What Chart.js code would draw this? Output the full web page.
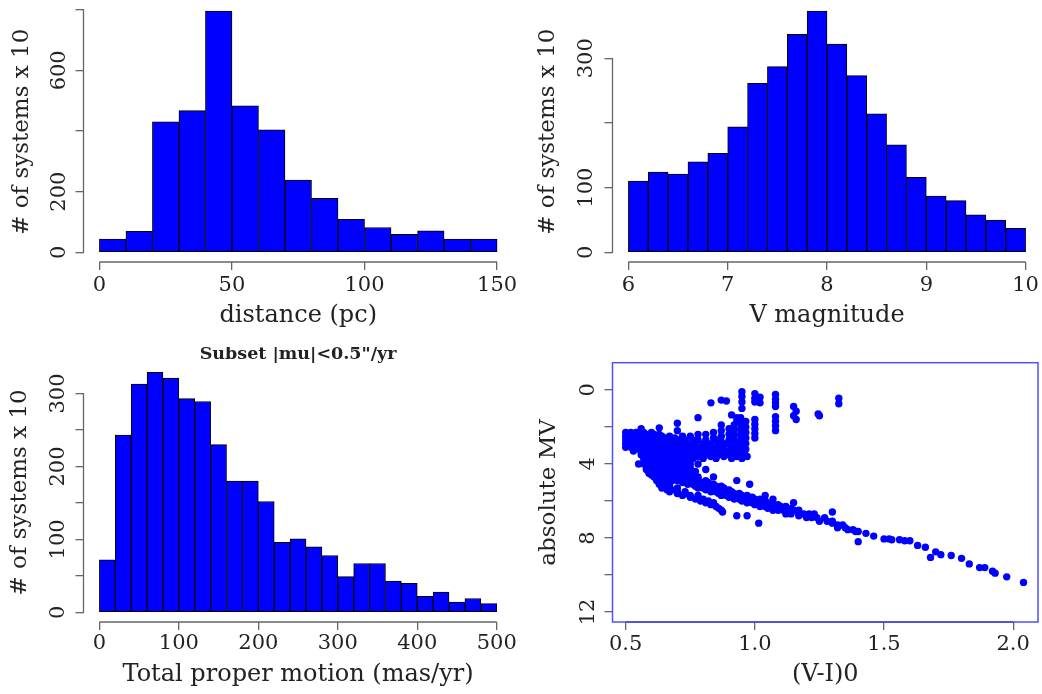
<!DOCTYPE html>
<html>
<head>
<meta charset="utf-8">
<script src="https://cdn.jsdelivr.net/npm/chart.js@4.4.0/dist/chart.umd.min.js"></script>
<style>
html, body { margin: 0; padding: 0; background: #fff; }
#wrap { position: relative; width: 1042px; height: 694px; overflow: hidden; }
.cell { position: absolute; width: 521px; height: 347px; }
</style>
</head>
<body>
<div id="wrap">
  <div class="cell" style="left:0;top:0"><canvas id="cDist"></canvas></div>
  <div class="cell" style="left:521px;top:0"><canvas id="cVmag"></canvas></div>
  <div class="cell" style="left:0;top:347px"><canvas id="cPm"></canvas></div>
  <div class="cell" style="left:521px;top:347px"><canvas id="cHr"></canvas></div>
</div>
<script>
// histogram 1: distance (pc), bins of 10
var distBins = [0, 10, 20, 30, 40, 50, 60, 70, 80, 90, 100, 110, 120, 130, 140];
var distCounts = [44, 69, 430, 467, 795, 483, 404, 238, 178, 109, 82, 59, 71, 44, 44];
var distTicksX = [0, 50, 100, 150];
var distTicksY = [0, 200, 400, 600, 800];
var distLabelsY = [0, 200, 600];

// histogram 2: V magnitude, bins of 0.2
var vmagBins = [6.0, 6.2, 6.4, 6.6, 6.8, 7.0, 7.2, 7.4, 7.6, 7.8, 8.0, 8.2, 8.4, 8.6, 8.8, 9.0, 9.2, 9.4, 9.6, 9.8];
var vmagCounts = [110, 124, 121, 140, 153, 194, 261, 287, 337, 373, 322, 273, 214, 166, 116, 87, 80, 58, 50, 37];
var vmagTicksX = [6, 7, 8, 9, 10];
var vmagTicksY = [0, 100, 200, 300];
var vmagLabelsY = [0, 100, 300];

// histogram 3: total proper motion, bins of 20
var pmBins = [0, 20, 40, 60, 80, 100, 120, 140, 160, 180, 200, 220, 240, 260, 280, 300, 320, 340, 360, 380, 400, 420, 440, 460, 480];
var pmCounts = [72, 243, 313, 329, 321, 293, 289, 230, 180, 180, 152, 96, 101, 90, 78, 49, 67, 67, 43, 40, 22, 28, 14, 19, 12];
var pmTicksX = [0, 100, 200, 300, 400, 500];
var pmTicksY = [0, 50, 100, 150, 200, 250, 300];
var pmLabelsY = [0, 100, 200, 300];

// HR diagram: isolated stars as [(V-I)0, MV]
var hrSingles = [
  [0.83, 0.7], [0.87, 0.55], [0.89, 0.6], [0.95, 0.1], [0.95, 0.35], [0.95, 0.65], [0.95, 1.0],
  [1.0, 0.2], [1.0, 0.45], [1.02, 0.4], [1.0, 0.65], [1.02, 0.7],
  [1.08, 0.25], [1.08, 0.5], [1.08, 0.7], [1.08, 0.9],
  [1.15, 0.9], [1.16, 1.15], [1.15, 1.4], [1.16, 1.6], [1.245, 1.3], [1.25, 1.4],
  [1.325, 0.45], [1.325, 0.75], [0.78, 1.5], [0.91, 1.35], [0.87, 1.9], [0.70, 1.8],
  [0.56, 2.1], [0.63, 2.05], [0.70, 2.2],
  [0.93, 1.5], [0.93, 1.7],
  [1.0, 1.6], [1.0, 1.85], [1.0, 2.1], [1.0, 2.35], [1.0, 2.6],
  [1.08, 1.45], [1.08, 1.7], [1.08, 1.95], [1.08, 2.2],
  [0.945, 1.5], [0.945, 1.8], [0.945, 2.1], [0.945, 2.4], [0.945, 2.7], [0.945, 3.0],
  [0.965, 1.7], [0.965, 2.0], [0.965, 2.3], [0.965, 2.6], [0.965, 2.9], [0.965, 3.2],
  [0.92, 1.9], [0.92, 2.2], [0.92, 2.5], [0.92, 2.8],
  [0.90, 2.1], [0.90, 2.4], [0.90, 2.7], [0.87, 2.2], [0.87, 2.5], [0.87, 2.8],
  [0.84, 2.3], [0.84, 2.6], [0.81, 2.4], [0.81, 2.7], [0.78, 2.4], [0.78, 2.7]
];
// HR diagram: crowded rows, [MV, list of (V-I)0]
var hrRows = [
  [2.3, [0.50, 0.52, 0.54, 0.57, 0.60]],
  [2.4, [0.51, 0.53, 0.55, 0.59, 0.61, 0.63]],
  [2.5, [0.50, 0.52, 0.54, 0.56, 0.58, 0.60, 0.62, 0.64, 0.67, 0.72, 0.75]],
  [2.6, [0.51, 0.53, 0.55, 0.57, 0.59, 0.61, 0.63, 0.65, 0.69]],
  [2.7, [0.50, 0.52, 0.54, 0.56, 0.58, 0.60, 0.62, 0.64, 0.66, 0.68, 0.70, 0.73, 0.76, 0.85]],
  [2.8, [0.51, 0.53, 0.55, 0.57, 0.59, 0.61, 0.63, 0.65, 0.67, 0.69, 0.71]],
  [2.9, [0.50, 0.52, 0.54, 0.56, 0.58, 0.60, 0.62, 0.64, 0.66, 0.68, 0.70, 0.72, 0.74, 0.77, 0.80, 0.83, 0.86, 0.89, 0.92]],
  [3.0, [0.51, 0.53, 0.55, 0.57, 0.59, 0.61, 0.63, 0.65, 0.67, 0.69, 0.71, 0.73, 0.75, 0.81, 0.87, 0.93]],
  [3.1, [0.50, 0.52, 0.54, 0.56, 0.58, 0.60, 0.62, 0.64, 0.66, 0.68, 0.70, 0.72, 0.74, 0.76, 0.79, 0.82, 0.85, 0.88, 0.91, 0.94, 0.96]],
  [3.2, [0.55, 0.57, 0.59, 0.61, 0.63, 0.65, 0.67, 0.69, 0.71, 0.73, 0.75, 0.77, 0.79, 0.83, 0.87, 0.91, 0.95]],
  [3.3, [0.53, 0.56, 0.58, 0.60, 0.62, 0.64, 0.66, 0.68, 0.70, 0.72, 0.74, 0.76, 0.78, 0.80, 0.82, 0.84, 0.86, 0.88, 0.90, 0.92, 0.94, 0.96]],
  [3.4, [0.57, 0.59, 0.61, 0.63, 0.65, 0.67, 0.69, 0.71, 0.73, 0.75, 0.77, 0.79, 0.81, 0.83, 0.85, 0.87, 0.89, 0.91, 0.93, 0.95]],
  [3.5, [0.56, 0.58, 0.60, 0.62, 0.64, 0.66, 0.68, 0.70, 0.72, 0.74, 0.76, 0.78, 0.80, 0.82, 0.84, 0.86, 0.88, 0.90, 0.92, 0.94, 0.96]],
  [3.6, [0.58, 0.60, 0.62, 0.64, 0.66, 0.68, 0.70, 0.72, 0.74, 0.78, 0.83, 0.88, 0.93, 0.97]],
  [3.7, [0.57, 0.59, 0.61, 0.63, 0.65, 0.67, 0.69, 0.71, 0.73, 0.76, 0.80, 0.85, 0.91, 0.95]],
  [3.8, [0.58, 0.60, 0.62, 0.64, 0.66, 0.68, 0.70, 0.72, 0.74]],
  [3.9, [0.57, 0.59, 0.61, 0.63, 0.65, 0.67, 0.69, 0.71, 0.73]],
  [4.0, [0.55, 0.57, 0.60, 0.75, 0.78]],
  [4.1, [0.58, 0.60, 0.62, 0.64, 0.66, 0.68, 0.70, 0.72, 0.74]],
  [4.2, [0.59, 0.61, 0.63, 0.65, 0.67, 0.69, 0.71, 0.73, 0.75]],
  [4.3, [0.58, 0.60, 0.62, 0.64, 0.66, 0.68, 0.70, 0.72, 0.74, 0.81]],
  [4.4, [0.59, 0.61, 0.63, 0.65, 0.67, 0.69, 0.71, 0.73, 0.75, 0.77]],
  [4.5, [0.59, 0.61, 0.63, 0.65, 0.67, 0.69, 0.71, 0.73, 0.76]],
  [4.6, [0.60, 0.62, 0.64, 0.66, 0.68, 0.70, 0.72, 0.74, 0.76]],
  [4.7, [0.61, 0.63, 0.65, 0.67, 0.69, 0.71, 0.73, 0.75, 0.78, 0.84]],
  [4.8, [0.62, 0.64, 0.66, 0.68, 0.70, 0.72, 0.74, 0.76, 0.78]],
  [4.9, [0.62, 0.64, 0.66, 0.68, 0.70, 0.72, 0.74, 0.76, 0.78, 0.81, 0.93]],
  [5.0, [0.63, 0.65, 0.72, 0.74, 0.76, 0.78, 0.80, 0.82]],
  [5.1, [0.63, 0.65, 0.67, 0.74, 0.76, 0.78, 0.80, 0.82, 0.84, 0.98]],
  [5.2, [0.64, 0.66, 0.77, 0.79, 0.81, 0.83, 0.85, 0.87]],
  [5.3, [0.64, 0.67, 0.70, 0.78, 0.80, 0.82, 0.84, 0.86, 0.88]],
  [5.4, [0.66, 0.69, 0.81, 0.83, 0.85, 0.87, 0.90]],
  [5.5, [0.67, 0.70, 0.73, 0.83, 0.85, 0.87, 0.89, 0.91]],
  [5.6, [0.70, 0.73, 0.86, 0.88, 0.90, 0.92, 0.94]],
  [5.7, [0.72, 0.75, 0.78, 0.87, 0.89, 0.91, 0.93, 0.95, 0.97, 1.04]],
  [5.8, [0.75, 0.78, 0.90, 0.92, 0.94, 0.96, 0.99]],
  [5.9, [0.77, 0.80, 0.92, 0.94, 0.96, 0.98, 1.00, 1.02, 1.07]],
  [6.0, [0.79, 0.82, 0.95, 0.97, 0.99, 1.01, 1.04]],
  [6.1, [0.81, 0.84, 0.97, 0.99, 1.01, 1.03, 1.05, 1.07, 1.15]],
  [6.2, [0.83, 1.00, 1.02, 1.04, 1.06, 1.09]],
  [6.3, [0.85, 1.02, 1.04, 1.06, 1.08, 1.10, 1.12]],
  [6.4, [0.86, 1.05, 1.07, 1.09, 1.11, 1.14]],
  [6.5, [0.87, 1.07, 1.09, 1.11, 1.13, 1.15, 1.17]],
  [6.6, [0.875, 1.30]],
  [6.7, [1.12, 1.14, 1.17, 1.19, 1.21, 1.23]],
  [6.8, [0.93, 0.97, 1.17]],
  [6.9, [1.20, 1.22, 1.24, 1.27]],
  [7.1, [1.25, 1.28, 1.30]],
  [7.2, [1.015, 1.30]],
  [7.3, [1.32, 1.34]],
  [7.45, [1.32, 1.35]],
  [7.55, [1.36, 1.38]],
  [7.65, [1.39, 1.40]],
  [7.75, [1.43]],
  [7.9, [1.46]],
  [8.05, [1.50, 1.52]],
  [8.1, [1.53, 1.56]],
  [8.15, [1.58, 1.60]],
  [8.2, [1.40]],
  [8.4, [1.63]],
  [8.5, [1.66]],
  [8.75, [1.70]],
  [8.9, [1.72]],
  [8.95, [1.76]],
  [9.05, [1.68]],
  [9.1, [1.80]],
  [9.4, [1.83]],
  [9.6, [1.87, 1.89]],
  [9.8, [1.92]],
  [9.9, [1.93]],
  [10.1, [1.975]],
  [10.4, [2.04]]
];
var hrTicksX = [0.5, 1.0, 1.5, 2.0];
var hrTicksY = [0, 2, 4, 6, 8, 10, 12];
var hrLabelsY = [0, 4, 8, 12];

Chart.defaults.font.family = "'DejaVu Serif', serif";
Chart.defaults.color = '#222';
Chart.defaults.animation = false;

var AXIS_COL = '#666';

// R style axes: line only between first and last tick, optional box
var rAxisLines = {
  id: 'rAxisLines',
  afterDraw: function (chart, args, opts) {
    var ctx = chart.ctx, a = chart.chartArea;
    ctx.save();
    if (opts.box) {
      ctx.strokeStyle = opts.box;
      ctx.lineWidth = 1.5;
      ctx.strokeRect(a.left, a.top, a.right - a.left, a.bottom - a.top);
    }
    ctx.strokeStyle = opts.color || AXIS_COL;
    ctx.lineWidth = 1.3;
    ctx.beginPath();
    (opts.axes || ['x', 'y']).forEach(function (id) {
      var s = chart.scales[id];
      var p0 = s.getPixelForValue(s.ticks[0].value);
      var p1 = s.getPixelForValue(s.ticks[s.ticks.length - 1].value);
      if (s.isHorizontal()) { ctx.moveTo(p0, a.bottom); ctx.lineTo(p1, a.bottom); }
      else { ctx.moveTo(a.left, p0); ctx.lineTo(a.left, p1); }
    });
    ctx.stroke();
    ctx.restore();
  }
};

function rScale(o) {
  var vertical = o.axis === 'y';
  return {
    type: 'linear',
    bounds: 'data',
    min: o.min,
    max: o.max,
    reverse: !!o.reverse,
    offset: false,
    border: { display: false },
    grid: { display: true, drawOnChartArea: false, drawTicks: true, tickLength: 8, color: AXIS_COL, lineWidth: 1.3, offset: false },
    afterBuildTicks: function (s) { s.ticks = o.ticks.map(function (v) { return { value: v }; }); },
    afterFit: function (s) {
      // fixed margins, no extra room for the end labels
      if (vertical) { s.width = o.size; s.paddingTop = 0; s.paddingBottom = 0; }
      else { s.height = o.size; s.paddingLeft = 0; s.paddingRight = 0; }
    },
    ticks: {
      font: { size: 21 },
      color: '#222',
      padding: o.pad,
      autoSkip: false,
      minRotation: vertical ? 90 : 0,
      maxRotation: vertical ? 90 : 0,
      crossAlign: vertical ? 'center' : 'near',
      callback: function (v) {
        if (o.labels && o.labels.indexOf(v) < 0) return '';
        return o.fmt ? o.fmt(v) : String(v);
      }
    },
    title: {
      display: true,
      text: o.title,
      color: '#222',
      font: { size: vertical ? 23 : 24 },
      padding: vertical ? { top: o.titlePad, bottom: 0 } : { top: 0, bottom: o.titlePad }
    }
  };
}

function histChart(id, bins, counts, L) {
  var w = bins[1] - bins[0];
  var pts = counts.map(function (c, i) { return { x: bins[i] + w / 2, y: c }; });
  var lo = bins[0], hi = bins[bins.length - 1] + w;
  var ext = 0.04 * (hi - lo);
  var top = Math.max.apply(null, counts);
  var plugins = { legend: { display: false }, tooltip: { enabled: false }, rAxisLines: {} };
  if (L.mainTitle) {
    plugins.title = {
      display: true, text: L.mainTitle, fullSize: false, color: '#222',
      font: { size: 17.5, weight: 'bold', lineHeight: 0.9 }, padding: { top: 0, bottom: 0 }
    };
  }
  return new Chart(document.getElementById(id), {
    type: 'bar',
    data: {
      datasets: [{
        data: pts,
        backgroundColor: '#0000ff',
        borderColor: '#000',
        borderWidth: 1,
        borderSkipped: false,
        barPercentage: 1,
        categoryPercentage: 1
      }]
    },
    options: {
      responsive: true,
      maintainAspectRatio: false,
      layout: { padding: { top: L.padTop, right: L.padRight, left: 0, bottom: 0 } },
      plugins: plugins,
      scales: {
        x: rScale({ axis: 'x', min: lo - ext, max: hi + ext, ticks: L.ticksX, size: L.xSize, pad: L.xPad, title: L.xTitle, titlePad: L.xTitlePad }),
        y: rScale({ axis: 'y', min: -0.04 * top, max: 1.04 * top, ticks: L.ticksY, labels: L.labelsY, size: L.ySize, pad: L.yPad, title: L.yTitle, titlePad: L.yTitlePad })
      }
    },
    plugins: [rAxisLines]
  });
}

histChart('cDist', distBins, distCounts, {
  ticksX: distTicksX, ticksY: distTicksY, labelsY: distLabelsY,
  xTitle: 'distance (pc)', yTitle: '# of systems x 10',
  padTop: 1.5, padRight: 8, ySize: 83.5, xSize: 85,
  xPad: 2.8, yPad: -4.5, xTitlePad: 16.5, yTitlePad: 8
});

histChart('cVmag', vmagBins, vmagCounts, {
  ticksX: vmagTicksX, ticksY: vmagTicksY, labelsY: vmagLabelsY,
  xTitle: 'V magnitude', yTitle: '# of systems x 10',
  padTop: 1.3, padRight: 0.5, ySize: 91.5, xSize: 85,
  xPad: 2.8, yPad: -2.5, xTitlePad: 16.5, yTitlePad: 13.6
});

histChart('cPm', pmBins, pmCounts, {
  ticksX: pmTicksX, ticksY: pmTicksY, labelsY: pmLabelsY,
  xTitle: 'Total proper motion (mas/yr)', yTitle: '# of systems x 10',
  mainTitle: 'Subset |mu|<0.5"/yr',
  padTop: 0, padRight: 8.4, ySize: 83.5, xSize: 72,
  xPad: 0.5, yPad: -3.5, xTitlePad: 4.5, yTitlePad: 6
});

// HR diagram
var hrPoints = hrSingles.map(function (p) { return { x: p[0], y: p[1] }; });
hrRows.forEach(function (r) {
  r[1].forEach(function (vi) { hrPoints.push({ x: vi, y: r[0] }); });
});

new Chart(document.getElementById('cHr'), {
  type: 'scatter',
  data: {
    datasets: [{
      data: hrPoints,
      pointRadius: 3.7,
      pointBackgroundColor: '#0000ff',
      pointBorderWidth: 0,
      showLine: false
    }]
  },
  options: {
    responsive: true,
    maintainAspectRatio: false,
    layout: { padding: { top: 15.7, right: 1.3, left: 0, bottom: 0 } },
    plugins: {
      legend: { display: false },
      tooltip: { enabled: false },
      rAxisLines: { box: '#5050ff', axes: ['x'], color: '#4848c0' }
    },
    scales: {
      x: rScale({ axis: 'x', min: 0.449, max: 2.096, ticks: hrTicksX, size: 72, pad: 1.5, title: '(V-I)0', titlePad: 4.5,
        fmt: function (v) { return v.toFixed(1); } }),
      y: rScale({ axis: 'y', min: -1.47, max: 12.54, reverse: true, ticks: hrTicksY, labels: hrLabelsY, size: 91.5, pad: 2.1,
        title: 'absolute MV', titlePad: 14.6 })
    }
  },
  plugins: [rAxisLines]
});
</script>
</body>
</html>
